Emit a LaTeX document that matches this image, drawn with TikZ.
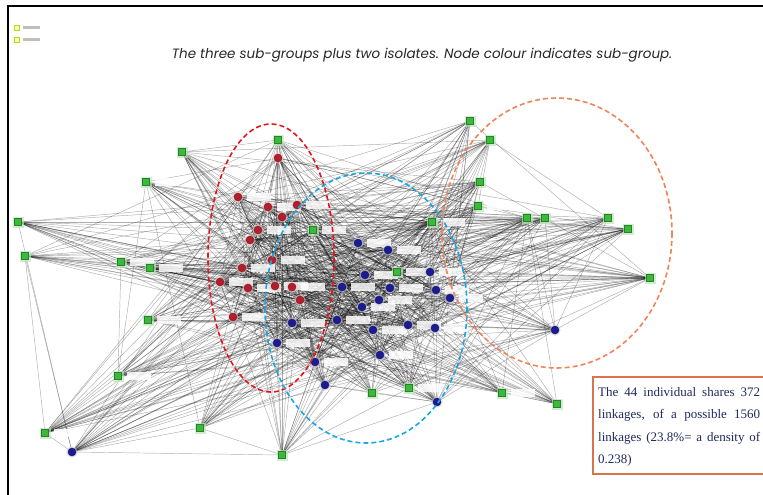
\documentclass[tikz,border=0pt]{standalone}
\usepackage{fontspec}
\setmainfont{Liberation Serif}
\newfontfamily\titlefont{Poppins}
\usetikzlibrary{backgrounds}
\definecolor{gcol}{HTML}{3CB83C}
\definecolor{bcol}{HTML}{1C1C90}
\definecolor{rcol}{HTML}{B21E2C}
\definecolor{redell}{HTML}{E8141B}
\definecolor{blueell}{HTML}{1BA6E2}
\definecolor{orell}{HTML}{EE8457}
\definecolor{boxcol}{HTML}{D9734E}
\definecolor{boxtext}{HTML}{1F2A5C}
\begin{document}
\begin{tikzpicture}[x=1pt,y=-1pt,
  gnode/.style={rectangle,minimum size=7pt,inner sep=0pt,fill=gcol,draw=gcol!70!black,line width=0.4pt,
    preaction={draw=gcol!35,line width=4pt,opacity=0.7}},
  bnode/.style={circle,minimum size=8pt,inner sep=0pt,fill=bcol,draw=bcol!70!black,line width=0.4pt,
    preaction={draw=bcol!25,line width=3pt,opacity=0.6}},
  rnode/.style={circle,minimum size=8pt,inner sep=0pt,fill=rcol,draw=rcol!70!black,line width=0.4pt,
    preaction={draw=rcol!25,line width=3pt,opacity=0.6}},
  edge/.style={draw=black,opacity=0.32,line width=0.45pt},
  patch/.style={fill=white,opacity=0.82},
  ell/.style={dashed,line width=1.6pt,dash pattern=on 5pt off 3pt}]
\useasboundingbox (0,0) rectangle (763,495);
% nodes
\foreach \x/\y/\s [count=\k] in {
 18/222/gnode,25/256/gnode,146/182/gnode,182/152/gnode,121/262/gnode,150/268/gnode,
 148/320/gnode,118/376/gnode,45/433/gnode,200/428/gnode,282/455/gnode,278/140/gnode,
 470/121/gnode,490/140/gnode,480/182/gnode,478/206/gnode,527/218/gnode,545/218/gnode,
 608/218/gnode,628/229/gnode,650/278/gnode,557/404/gnode,502/393/gnode,409/388/gnode,
 372/393/gnode,313/230/gnode,397/272/gnode,432/222/gnode,
 72/452/bnode,555/330/bnode,358/243/bnode,388/250/bnode,365/275/bnode,430/272/bnode,
 342/287/bnode,390/288/bnode,436/290/bnode,379/300/bnode,450/298/bnode,362/307/bnode,
 337/320/bnode,292/323/bnode,408/325/bnode,435/328/bnode,373/330/bnode,277/343/bnode,
 315/362/bnode,380/355/bnode,325/385/bnode,437/402/bnode,
 278/158/rnode,238/197/rnode,268/207/rnode,297/205/rnode,282/217/rnode,258/230/rnode,
 250/240/rnode,242/268/rnode,272/260/rnode,220/282/rnode,248/288/rnode,275/286/rnode,
 292/287/rnode,300/300/rnode,233/317/rnode}
 {\node[\s] (n\k) at (\x,\y) {};}
% edges
\pgfmathsetseed{4242}
\begin{pgfonlayer}{background}
\foreach \i in {1,...,64}{
  \pgfmathtruncatemacro\ip{\i+1}
  \foreach \j in {\ip,...,65}{
    \pgfmathsetmacro\p{(\i<26 && \j<26) ? 0.12 : 0.5}
    \pgfmathtruncatemacro\hit{rnd<\p}
    \ifnum\hit=1 \draw[edge] (n\i) -- (n\j); \fi
  }}
% label patches
\foreach \k in {3,5,6,7,8,9,13,14,15,16,19,20,21,22,23,24,26,27,28,30,31,32,33,34,35,36,37,38,39,40,41,42,43,44,45,46,47,48,50,52,53,54,56,58,59,60,61,62,63,65}{
  \fill[patch] ([xshift=5pt,yshift=-3.5pt]n\k.east) rectangle ++(24pt,7.5pt);
}
\end{pgfonlayer}
% ellipses
\draw[ell,draw=redell] (271,258) ellipse [x radius=63,y radius=134];
\draw[ell,draw=blueell] (366,308) ellipse [x radius=101,y radius=135];
\draw[ell,draw=orell] (557,233) ellipse [x radius=115,y radius=135];
% frame
\draw[line width=2.5pt] (8,495) -- (8,6) -- (763,6);
% legend
\foreach \yy [count=\m] in {28,40}{
  \node[rectangle,minimum size=5pt,inner sep=0pt,draw=yellow!70!green,line width=1pt,fill=yellow!30] (leg\m) at (17,\yy) {};
  \fill[black!25] (23,\yy-1.5) rectangle (40,\yy+1.5);
}
% title
\node[font=\titlefont\itshape\fontsize{13.5}{16}\selectfont,text=black!85] (title) at (422,55)
 {The three sub-groups plus two isolates. Node colour indicates sub-group.};
% info box
\draw[boxcol,line width=1.2pt,fill=white] (593,377) rectangle (770,474);
\node[anchor=north west,inner sep=0pt,text width=162pt,align=justify,text=boxtext,
  font=\fontsize{13}{22.5}\selectfont] (info) at (598,387)
 {The 44 individual shares 372\linebreak linkages, of a possible 1560\linebreak linkages (23.8\%= a density of\linebreak 0.238)};
\end{tikzpicture}
\end{document}
